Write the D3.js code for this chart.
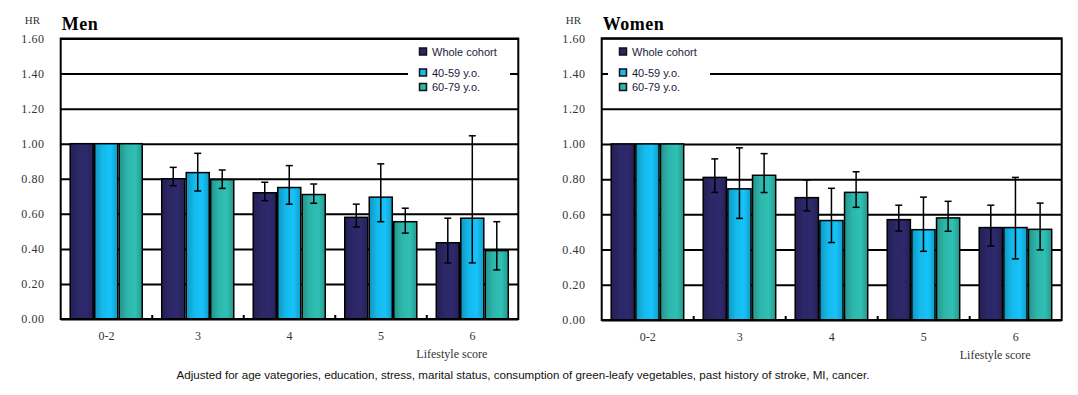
<!DOCTYPE html>
<html>
  <head>
    <meta charset="UTF-8" />
    <script src="https://d3js.org/d3.v7.min.js"></script>
    <title>Lifestyle score - HR</title>
    <style>
      body { margin: 0; background: #fff; }
      svg { display: block; }
      .serif { font-family: "Liberation Serif", "Times New Roman", serif; }
      .sans { font-family: "Liberation Sans", Arial, sans-serif; }
    </style>
  </head>
  <body>
    <div id="chart"></div>
    <script type="text/javascript">
      // Data
      const categories = ["0-2", "3", "4", "5", "6"];
      const seriesNames = ["Whole cohort", "40-59 y.o.", "60-79 y.o."];
      const yTicks = [0, 0.2, 0.4, 0.6, 0.8, 1.0, 1.2, 1.4, 1.6];

      // Men
      const menWhole = [1.0, 0.8, 0.72, 0.58, 0.435];
      const menWholeLow = [null, 0.76, 0.675, 0.525, 0.32];
      const menWholeHigh = [null, 0.865, 0.78, 0.655, 0.575];
      const men4059 = [1.0, 0.835, 0.75, 0.695, 0.575];
      const men4059Low = [null, 0.73, 0.655, 0.555, 0.32];
      const men4059High = [null, 0.945, 0.875, 0.885, 1.045];
      const men6079 = [1.0, 0.795, 0.71, 0.555, 0.39];
      const men6079Low = [null, 0.745, 0.66, 0.49, 0.28];
      const men6079High = [null, 0.85, 0.77, 0.632, 0.555];

      // Women
      const womenWhole = [1.0, 0.81, 0.695, 0.57, 0.525];
      const womenWholeLow = [null, 0.725, 0.62, 0.505, 0.42];
      const womenWholeHigh = [null, 0.915, 0.795, 0.652, 0.652];
      const women4059 = [1.0, 0.745, 0.565, 0.513, 0.525];
      const women4059Low = [null, 0.577, 0.44, 0.39, 0.347];
      const women4059High = [null, 0.978, 0.748, 0.698, 0.81];
      const women6079 = [1.0, 0.822, 0.725, 0.58, 0.515];
      const women6079Low = [null, 0.724, 0.64, 0.504, 0.398];
      const women6079High = [null, 0.945, 0.842, 0.674, 0.664];

      const colors = ["#2c2766", "#15b9ec", "#2db6ab"];

      const w = 1078;
      const h = 395;

      const svg = d3
        .select("#chart")
        .append("svg")
        .attr("width", w)
        .attr("height", h);

      // gradienter til søjlerne (lidt skygge i kanterne)
      const defs = svg.append("defs");
      colors.forEach(function (c, i) {
        const g = defs
          .append("linearGradient")
          .attr("id", "grad" + i)
          .attr("x1", "0%")
          .attr("x2", "100%");
        g.append("stop").attr("offset", "0%").attr("stop-color", d3.color(c).darker(0.6));
        g.append("stop").attr("offset", "35%").attr("stop-color", c);
        g.append("stop").attr("offset", "70%").attr("stop-color", d3.color(c).brighter(0.15));
        g.append("stop").attr("offset", "100%").attr("stop-color", d3.color(c).darker(0.5));
      });

      function drawPanel(p) {
        const g = svg.append("g");

        const y = d3.scaleLinear().domain([0, 1.6]).range([p.y1, p.y0]);
        const x = d3.scaleBand().domain(categories).range([p.x0, p.x1]);
        const xs = d3
          .scaleBand()
          .domain(seriesNames)
          .range([9.5, x.bandwidth() - 10])
          .paddingInner(0.06);

        // gitterlinjer + tal på y-aksen
        const yAxis = g
          .append("g")
          .attr("transform", "translate(" + p.x0 + ",0)")
          .call(
            d3
              .axisLeft(y)
              .tickValues(yTicks)
              .tickSize(-(p.x1 - p.x0))
              .tickPadding(16)
              .tickFormat(d3.format(".2f"))
          );
        yAxis.select(".domain").remove();
        yAxis.selectAll("line").attr("stroke", "#000").attr("stroke-width", 2);
        yAxis
          .selectAll("text")
          .attr("class", "serif")
          .style("font-size", "12px")
          .attr("fill", "#333")
          .attr("letter-spacing", "0.6px");

        // HR og titel
        g.append("text")
          .attr("class", "serif")
          .attr("x", p.x0 - 36)
          .attr("y", 24)
          .style("font-size", "11px")
          .attr("fill", "#333")
          .text("HR");
        g.append("text")
          .attr("class", "serif")
          .attr("x", p.x0 + 1)
          .attr("y", 30)
          .style("font-size", "18px")
          .style("font-weight", "bold")
          .attr("letter-spacing", "0.5px")
          .text(p.title);

        // legend - hvid boks over gitteret
        g.append("rect")
          .attr("x", p.legendX)
          .attr("y", 41)
          .attr("width", 102)
          .attr("height", 54)
          .attr("fill", "#fff");
        const legendY = [51.5, 72.5, 87];
        seriesNames.forEach(function (s, i) {
          g.append("rect")
            .attr("x", p.legendX + 11.5)
            .attr("y", legendY[i] - 3.5)
            .attr("width", 7)
            .attr("height", 7)
            .attr("fill", colors[i])
            .attr("stroke", "#111")
            .attr("stroke-width", 1.5);
          g.append("text")
            .attr("class", "sans")
            .attr("x", p.legendX + 24)
            .attr("y", legendY[i] + 4)
            .style("font-size", "11px")
            .attr("fill", "#1a1a40")
            .text(s);
        });

        // søjler
        p.values.forEach(function (vals, si) {
          g.selectAll(null)
            .data(vals)
            .enter()
            .append("rect")
            .attr("x", function (d, i) {
              return x(categories[i]) + xs(seriesNames[si]);
            })
            .attr("y", function (d) {
              return y(d);
            })
            .attr("width", xs.bandwidth())
            .attr("height", function (d) {
              return y(0) - y(d);
            })
            .attr("fill", "url(#grad" + si + ")")
            .attr("stroke", "#000")
            .attr("stroke-width", 1.5);
        });

        // fejlsøjler (konfidensintervaller)
        p.lows.forEach(function (lows, si) {
          const highs = p.highs[si];
          lows.forEach(function (lo, i) {
            if (lo === null) return;
            const cx = x(categories[i]) + xs(seriesNames[si]) + xs.bandwidth() / 2;
            const eg = g.append("g").attr("stroke", "#000").attr("stroke-width", 1.5);
            eg.append("line").attr("x1", cx).attr("x2", cx).attr("y1", y(lo)).attr("y2", y(highs[i]));
            eg.append("line").attr("x1", cx - 3.5).attr("x2", cx + 3.5).attr("y1", y(lo)).attr("y2", y(lo));
            eg.append("line").attr("x1", cx - 3.5).attr("x2", cx + 3.5).attr("y1", y(highs[i])).attr("y2", y(highs[i]));
          });
        });

        // ramme om plottet
        g.append("rect")
          .attr("x", p.x0)
          .attr("y", p.y0)
          .attr("width", p.x1 - p.x0)
          .attr("height", p.y1 - p.y0)
          .attr("fill", "none")
          .attr("stroke", "#000")
          .attr("stroke-width", 2);

        // små streger mellem kategorierne
        categories.slice(1).forEach(function (c) {
          g.append("line")
            .attr("x1", x(c))
            .attr("x2", x(c))
            .attr("y1", p.y1)
            .attr("y2", p.y1 - 4)
            .attr("stroke", "#000")
            .attr("stroke-width", 2);
        });

        // kategorinavne
        g.selectAll(null)
          .data(categories)
          .enter()
          .append("text")
          .attr("class", "serif")
          .attr("x", function (d) {
            return x(d) + x.bandwidth() / 2;
          })
          .attr("y", p.y1 + 21)
          .attr("text-anchor", "middle")
          .style("font-size", "12px")
          .attr("fill", "#333")
          .text(function (d) {
            return d;
          });

        g.append("text")
          .attr("class", "serif")
          .attr("x", p.x1 - 31)
          .attr("y", p.y1 + 39)
          .attr("text-anchor", "end")
          .style("font-size", "12px")
          .attr("fill", "#333")
          .text("Lifestyle score");
      }

      drawPanel({
        title: "Men",
        x0: 60.7,
        x1: 518.3,
        y0: 38.5,
        y1: 319,
        legendX: 408,
        values: [menWhole, men4059, men6079],
        lows: [menWholeLow, men4059Low, men6079Low],
        highs: [menWholeHigh, men4059High, men6079High],
      });

      drawPanel({
        title: "Women",
        x0: 601.7,
        x1: 1061.7,
        y0: 38.3,
        y1: 320,
        legendX: 608,
        values: [womenWhole, women4059, women6079],
        lows: [womenWholeLow, women4059Low, women6079Low],
        highs: [womenWholeHigh, women4059High, women6079High],
      });

      // fodnote
      svg
        .append("text")
        .attr("class", "sans")
        .attr("x", 523)
        .attr("y", 379)
        .attr("text-anchor", "middle")
        .style("font-size", "11.6px")
        .attr("fill", "#111")
        .text(
          "Adjusted for age vategories, education, stress, marital status, consumption of green-leafy vegetables, past history of stroke, MI, cancer."
        );
    </script>
  </body>
</html>
